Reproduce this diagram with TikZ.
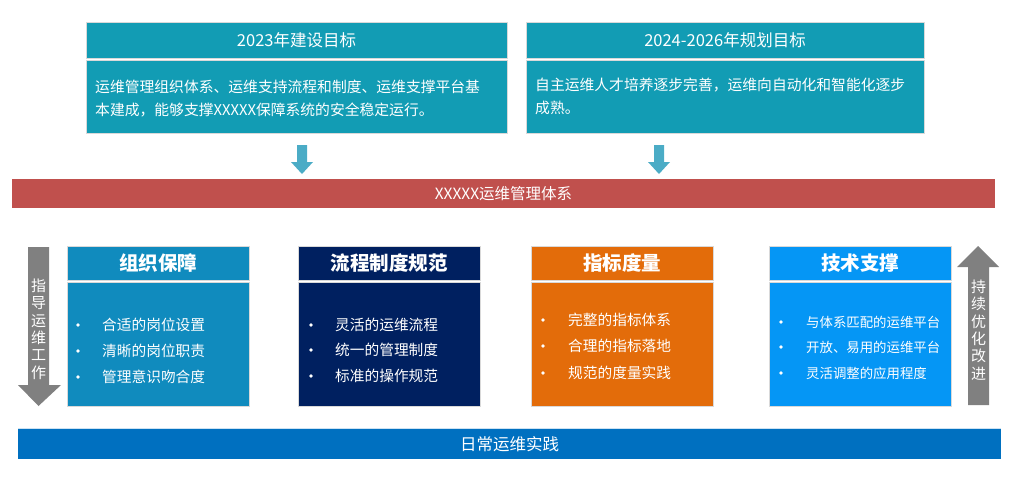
\documentclass[tikz,border=0pt]{standalone}
\usepackage{fontspec}
\setmainfont{Noto Sans CJK SC}
\definecolor{topteal}{RGB}{18,156,180}
\definecolor{barred}{RGB}{192,80,77}
\definecolor{boxa}{RGB}{16,139,190}
\definecolor{boxb}{RGB}{0,32,96}
\definecolor{boxc}{RGB}{227,108,10}
\definecolor{boxd}{RGB}{5,150,245}
\definecolor{barblue}{RGB}{0,112,192}
\definecolor{arrgray}{RGB}{128,128,128}
\definecolor{arrteal}{RGB}{75,172,198}
\begin{document}
\begin{tikzpicture}[x=1pt,y=-1pt,
  panel/.style={inner sep=0pt, outer sep=0pt, draw=white!85!black, line width=0.6pt},
  txt/.style={text=white, inner sep=0pt},
  toptitle/.style={txt, font=\fontsize{16.5}{19}\selectfont},
  topbody/.style={txt, align=left, anchor=west, font=\fontsize{14.8}{23}\selectfont},
  boxtitle/.style={txt, font=\bfseries\fontsize{19.5}{22}\selectfont},
  item/.style={txt, anchor=west, font=\fontsize{14.7}{17}\selectfont},
  itemsmall/.style={txt, anchor=west, font=\fontsize{13.4}{16}\selectfont},
  dot/.style={circle, fill=white, inner sep=0pt, minimum size=3.8pt},
  vtext/.style={txt, align=center, font=\fontsize{15}{17.4}\selectfont},
  bartext/.style={txt, font=\fontsize{15.5}{18}\selectfont}
]
\useasboundingbox (0,0) rectangle (1023,477);

% ---- top goals
\node[panel, fill=topteal, minimum width=421pt, minimum height=36pt] (g1h) at (296.5,40) {};
\node[toptitle] (g1t) at (g1h.center) {2023年建设目标};
\node[panel, fill=topteal, minimum width=421pt, minimum height=73pt] (g1b) at (296.5,96.5) {};
\node[topbody] (g1x) at (95,98.5) {运维管理组织体系、运维支持流程和制度、运维支撑平台基\\本建成，能够支撑XXXXX保障系统的安全稳定运行。};

\node[panel, fill=topteal, minimum width=398pt, minimum height=36pt] (g2h) at (725,40) {};
\node[toptitle] (g2t) at (g2h.center) {2024-2026年规划目标};
\node[panel, fill=topteal, minimum width=398pt, minimum height=73pt] (g2b) at (725,96.5) {};
\node[topbody] (g2x) at (535,96) {自主运维人才培养逐步完善，运维向自动化和智能化逐步\\成熟。};

% ---- down arrows
\fill[arrteal] (297,145) -- (307,145) -- (307,162) -- (313,162) -- (302,174) -- (291,162) -- (297,162) -- cycle;
\fill[arrteal] (654,145) -- (664,145) -- (664,162) -- (670,162) -- (659,174) -- (648,162) -- (654,162) -- cycle;

% ---- red bar
\node[inner sep=0pt, fill=barred, minimum width=983pt, minimum height=29pt] (sys) at (503.5,193.5) {};
\node[bartext] (syst) at (sys.center) {XXXXX运维管理体系};

% ---- left arrow
\fill[arrgray] (28,247) -- (49,247) -- (49,385) -- (61,385) -- (38.5,406) -- (18,385) -- (28,385) -- cycle;
\node[vtext] (lt) at (38.5,329) {指\\导\\运\\维\\工\\作};

% ---- right arrow
\fill[arrgray] (978,246) -- (999,267) -- (989,267) -- (989,405) -- (968,405) -- (968,267) -- (957,267) -- cycle;
\node[vtext] (rt) at (978.5,330) {持\\续\\优\\化\\改\\进};

% ---- four boxes
\foreach \nm/\cx/\col in {a/158/boxa, b/389/boxb, c/622/boxc, d/860/boxd}{
  \node[panel, fill=\col, minimum width=182pt, minimum height=34pt] (\nm h) at (\cx,263) {};
  \node[panel, fill=\col, minimum width=182pt, minimum height=124pt] (\nm b) at (\cx,344) {};
}
\node[boxtitle] (aht) at (ah.center) {组织保障};
\node[boxtitle] (bht) at (bh.center) {流程制度规范};
\node[boxtitle] (cht) at (ch.center) {指标度量};
\node[boxtitle] (dht) at (dh.center) {技术支撑};

% box a items
\node[dot] (a1d) at (78,325) {}; \node[item] (a1) at (102,325) {合适的岗位设置};
\node[dot] (a2d) at (78,351) {}; \node[item] (a2) at (102,351) {清晰的岗位职责};
\node[dot] (a3d) at (78,377) {}; \node[item] (a3) at (102,377) {管理意识吻合度};
% box b items
\node[dot] (b1d) at (311,325) {}; \node[item] (b1) at (335,325) {灵活的运维流程};
\node[dot] (b2d) at (311,350) {}; \node[item] (b2) at (335,350) {统一的管理制度};
\node[dot] (b3d) at (311,376) {}; \node[item] (b3) at (335,376) {标准的操作规范};
% box c items
\node[dot] (c1d) at (543,320) {}; \node[item] (c1) at (568,320) {完整的指标体系};
\node[dot] (c2d) at (543,346) {}; \node[item] (c2) at (568,346) {合理的指标落地};
\node[dot] (c3d) at (543,373) {}; \node[item] (c3) at (568,373) {规范的度量实践};
% box d items
\node[dot] (d1d) at (781,322) {}; \node[itemsmall] (d1) at (806,322) {与体系匹配的运维平台};
\node[dot] (d2d) at (781,347) {}; \node[itemsmall] (d2) at (806,347) {开放、易用的运维平台};
\node[dot] (d3d) at (781,373) {}; \node[itemsmall] (d3) at (806,373) {灵活调整的应用程度};

% ---- bottom bar
\node[inner sep=0pt, fill=barblue, minimum width=983pt, minimum height=30pt] (prac) at (509.5,444) {};
\draw[white!80!barblue, line width=1pt] (prac.north west) -- (prac.north east);
\node[bartext, font=\fontsize{16.5}{19}\selectfont] (pract) at (prac.center) {日常运维实践};
\end{tikzpicture}
\end{document}
